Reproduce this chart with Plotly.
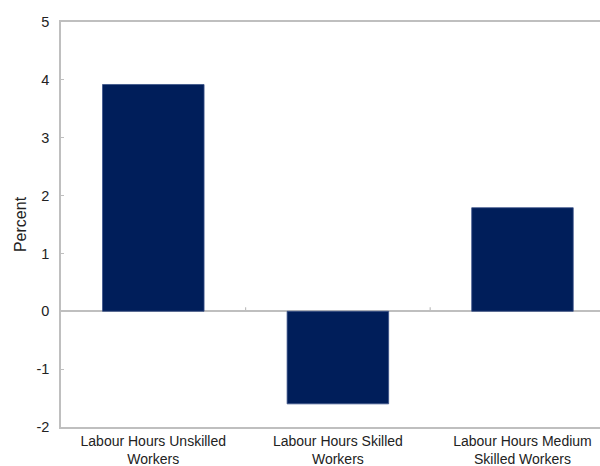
import plotly.graph_objects as go

categories = ["Labour Hours Unskilled<br>Workers",
              "Labour Hours Skilled<br>Workers",
              "Labour Hours Medium<br>Skilled Workers"]
values = [3.92, -1.6, 1.79]
y_ticks = [-2, -1, 0, 1, 2, 3, 4, 5]

BAR = "#001e5a"
GRID = "#bfbfbf"
FAM = "Liberation Sans, Arial, sans-serif"
TXT = "#222222"

fig = go.Figure()
fig.add_trace(go.Bar(x=list(range(len(categories))), y=values, width=0.55,
                     marker=dict(color=BAR, line=dict(color="#3a5288", width=0.8))))

shapes = []
for b in [i + 0.5 for i in range(len(categories) - 1)]:
    shapes.append(dict(type="line", xref="x", yref="y", x0=b, x1=b,
                       ysizemode="pixel", yanchor=0, y0=0, y1=4,
                       line=dict(color=GRID, width=1.2)))

fig.update_layout(
    width=600, height=466,
    margin=dict(l=61, r=0, t=22, b=39),
    paper_bgcolor="white", plot_bgcolor="white",
    showlegend=False, font=dict(family=FAM, size=14, color=TXT), shapes=shapes,
)
fig.update_xaxes(
    range=[-0.5, 2.42], tickmode="array",
    tickvals=list(range(len(categories))), ticktext=categories,
    showline=True, linecolor=GRID, linewidth=1.5, mirror=True,
    showgrid=False, zeroline=False, ticks="",
    tickfont=dict(family=FAM, size=14, color=TXT),
)
fig.update_yaxes(
    range=[-2, 5], tickmode="array", tickvals=y_ticks,
    ticktext=[str(v) for v in y_ticks],
    showline=True, linecolor=GRID, linewidth=1.5,
    showgrid=False, zeroline=True, zerolinecolor=GRID, zerolinewidth=1.5,
    ticks="inside", ticklen=3, tickcolor=GRID, ticklabelstandoff=7,
    tickfont=dict(family=FAM, size=14.5, color=TXT),
    title=dict(text="Percent", standoff=6,
               font=dict(family=FAM, size=16, color=TXT)),
)

fig.write_html("out.html")
